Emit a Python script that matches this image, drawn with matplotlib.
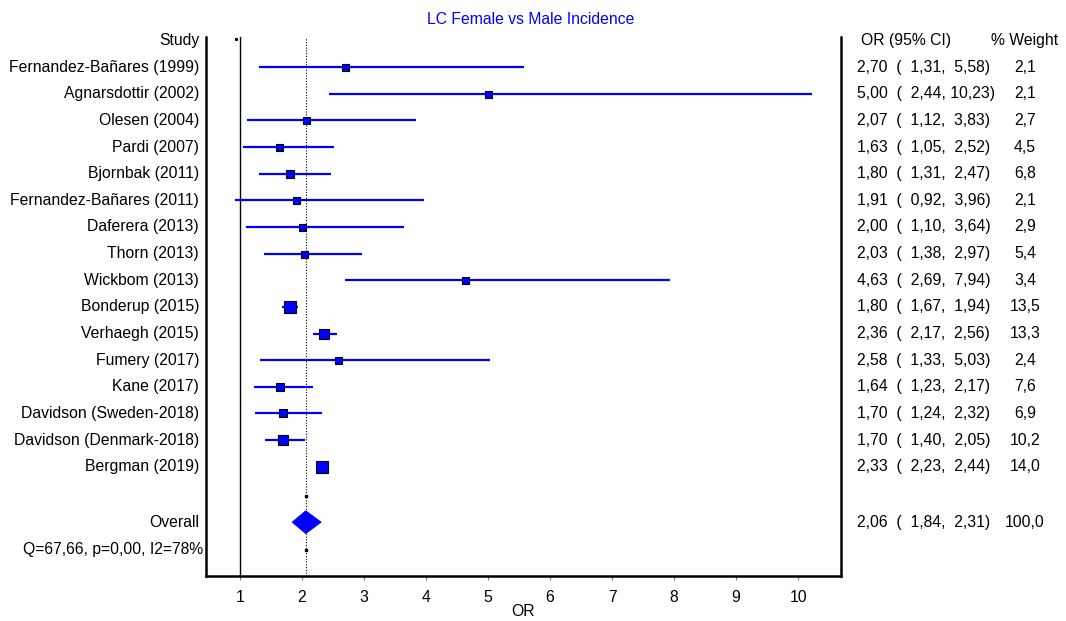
import matplotlib
matplotlib.use("Agg")
import matplotlib.pyplot as plt
from matplotlib.patches import Polygon
import numpy as np

plt.rcParams['font.family'] = ['Liberation Sans', 'DejaVu Sans']

studies = [
    "Fernandez-Bañares (1999)", "Agnarsdottir (2002)", "Olesen (2004)", "Pardi (2007)",
    "Bjornbak (2011)", "Fernandez-Bañares (2011)", "Daferera (2013)", "Thorn (2013)",
    "Wickbom (2013)", "Bonderup (2015)", "Verhaegh (2015)", "Fumery (2017)",
    "Kane (2017)", "Davidson (Sweden-2018)", "Davidson (Denmark-2018)", "Bergman (2019)",
]
or_est = [2.70, 5.00, 2.07, 1.63, 1.80, 1.91, 2.00, 2.03, 4.63, 1.80, 2.36, 2.58, 1.64, 1.70, 1.70, 2.33]
ci_lo = [1.31, 2.44, 1.12, 1.05, 1.31, 0.92, 1.10, 1.38, 2.69, 1.67, 2.17, 1.33, 1.23, 1.24, 1.40, 2.23]
ci_hi = [5.58, 10.23, 3.83, 2.52, 2.47, 3.96, 3.64, 2.97, 7.94, 1.94, 2.56, 5.03, 2.17, 2.32, 2.05, 2.44]
weights = [2.1, 2.1, 2.7, 4.5, 6.8, 2.1, 2.9, 5.4, 3.4, 13.5, 13.3, 2.4, 7.6, 6.9, 10.2, 14.0]

overall_or = 2.06
overall_lo = 1.84
overall_hi = 2.31
overall_weight = 100.0
heterogeneity = "Q=67,66, p=0,00, I2=78%"

x_ticks = [1, 2, 3, 4, 5, 6, 7, 8, 9, 10]

title = "LC Female vs Male Incidence"
blue = "#0000ff"
FS = 11.3


def fmt(v, width=0):
    return f"{v:{width}.2f}".replace(".", ",")


def fmt_w(v):
    return f"{v:.1f}".replace(".", ",")


fig = plt.figure(figsize=(10.66, 6.21), dpi=100)
ax = fig.add_axes([206 / 1066, 1 - 576 / 621, 635 / 1066, (576 - 37) / 621])

n = len(studies)
rows = np.arange(n)
row_overall = n + 1.08
row_q = n + 2.12

ax.set_xlim(0.452, 10.69)
ax.set_ylim(19.1, -1.13)

# reference lines: null effect and pooled estimate
ax.axvline(1, color="black", lw=1.0, zorder=1)
ax.axvline(overall_or, color="black", lw=0.8, ls=(0, (1, 1.5)), zorder=1)

# confidence intervals and weighted squares
for i in range(n):
    ax.plot([ci_lo[i], ci_hi[i]], [rows[i], rows[i]], color=blue, lw=1.6,
            solid_capstyle="butt", zorder=2)
    side_px = max(7.0, 3.0 * np.sqrt(weights[i]))
    ax.plot(or_est[i], rows[i], marker="s", ms=side_px * 0.72, mfc=blue,
            mec="black", mew=0.8, zorder=3)

# pooled estimate diamond
h = 0.43
diamond = Polygon([[overall_lo, row_overall], [overall_or, row_overall - h],
                   [overall_hi, row_overall], [overall_or, row_overall + h]],
                  closed=True, facecolor=blue, edgecolor=blue, lw=0.5, zorder=3)
ax.add_patch(diamond)

# small markers on the pooled line
ax.plot([overall_or, overall_or], [n + 0.08, row_q], ls="none", marker="s", ms=1.5,
        color="black", zorder=3)
ax.plot([0.935], [-1.05], ls="none", marker="s", ms=1.2, color="black", zorder=3)

ax.spines["top"].set_visible(False)
for side in ["left", "right", "bottom"]:
    ax.spines[side].set_linewidth(1.8)

ax.set_yticks([])
ax.set_xticks(x_ticks)
ax.set_xticklabels([str(t) for t in x_ticks], fontsize=FS)
ax.tick_params(axis="x", direction="out", length=3, width=0.8, color="#808080", pad=7)
ax.set_xlabel("OR", fontsize=FS, labelpad=-1)

ytr = ax.get_yaxis_transform()


def fx(px):
    return (px - 206) / 635


# left column
ax.text(fx(199), -1, "Study", transform=ytr, ha="right", va="center", fontsize=FS)
for i, s in enumerate(studies):
    ax.text(fx(199), rows[i], s, transform=ytr, ha="right", va="center", fontsize=FS)
ax.text(fx(199), row_overall, "Overall", transform=ytr, ha="right", va="center", fontsize=FS)
ax.text(fx(203), row_q, heterogeneity, transform=ytr, ha="right", va="center", fontsize=FS)

# right columns
ax.text(fx(861), -1, "OR (95% CI)", transform=ytr, ha="left", va="center", fontsize=FS)
ax.text(fx(1025), -1, "% Weight", transform=ytr, ha="center", va="center", fontsize=FS)
for i in range(n):
    s = f"{fmt(or_est[i])}  ( {fmt(ci_lo[i], 5)}, {fmt(ci_hi[i], 5)})"
    ax.text(fx(857), rows[i], s, transform=ytr, ha="left", va="center", fontsize=FS)
    ax.text(fx(1025), rows[i], fmt_w(weights[i]), transform=ytr, ha="center",
            va="center", fontsize=FS)
s = f"{fmt(overall_or)}  ( {fmt(overall_lo, 5)}, {fmt(overall_hi, 5)})"
ax.text(fx(857), row_overall, s, transform=ytr, ha="left", va="center", fontsize=FS)
ax.text(fx(1025), row_overall, fmt_w(overall_weight), transform=ytr, ha="center",
        va="center", fontsize=FS)

fig.text(531 / 1066, 1 - 20 / 621, title, color=blue, ha="center", va="center", fontsize=FS)

fig.savefig("out.png", dpi=100)
